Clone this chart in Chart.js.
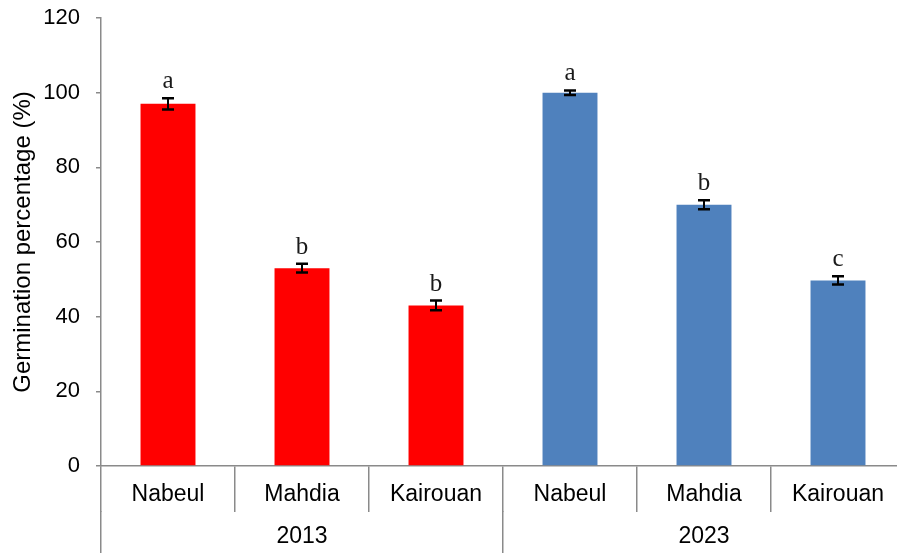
<!DOCTYPE html>
<html>
<head>
<meta charset="utf-8">
<script src="https://cdn.jsdelivr.net/npm/chart.js@4.4.1/dist/chart.umd.min.js"></script>
<style>
    html, body { margin: 0; padding: 0; background: #ffffff; overflow: hidden; }
    .wrap { width: 897px; height: 553px; overflow: hidden; }
</style>
</head>
<body>
<div class="wrap">
    <canvas id="germination-chart" width="906" height="553"></canvas>
</div>
<script>
// Sites and year groups (two-level category axis)
const sites = ['Nabeul', 'Mahdia', 'Kairouan', 'Nabeul', 'Mahdia', 'Kairouan'];
const yearTicks = ['', '2013', '', '', '2023', ''];

// Germination percentage (%) per site
const germ2013 = [97, 53, 43];
const germ2023 = [100, 70, 49.7];

// Standard errors
const err2013 = [1.5, 1.2, 1.3];
const err2023 = [0.6, 1.2, 1.1];

// Significance letters
const letters2013 = ['a', 'b', 'b'];
const letters2023 = ['a', 'b', 'c'];

const values = germ2013.concat(germ2023);
const errors = err2013.concat(err2023);
const letters = letters2013.concat(letters2023);
const barColors = germ2013.map(() => '#FF0000').concat(germ2023.map(() => '#4F81BD'));

const axisGray = '#8a8a8a';

/**
 * Error bars + letters above each bar
 */
const errorBarPlugin = {
    id: 'errorBars',
    afterDatasetsDraw(chart) {
        const ctx = chart.ctx;
        const yScale = chart.scales.y;
        const meta = chart.getDatasetMeta(0);
        ctx.save();
        ctx.strokeStyle = '#000000';
        meta.data.forEach((bar, i) => {
            const x = bar.x;
            const top = yScale.getPixelForValue(values[i] + errors[i]);
            const bottom = yScale.getPixelForValue(values[i] - errors[i]);
            ctx.lineWidth = 2;
            ctx.beginPath();
            ctx.moveTo(x, top);
            ctx.lineTo(x, bottom);
            ctx.stroke();
            ctx.lineWidth = 2.5;
            ctx.beginPath();
            ctx.moveTo(x - 6, top);
            ctx.lineTo(x + 6, top);
            ctx.moveTo(x - 6, bottom);
            ctx.lineTo(x + 6, bottom);
            ctx.stroke();

            ctx.fillStyle = '#1a1a1a';
            ctx.font = '25px "Liberation Serif", "Times New Roman", serif';
            ctx.textAlign = 'center';
            ctx.textBaseline = 'alphabetic';
            ctx.fillText(letters[i], x, top - 10);
        });
        ctx.restore();
    }
};

const ctx = document.getElementById('germination-chart').getContext('2d');

new Chart(ctx, {
    type: 'bar',
    data: {
        labels: sites,
        datasets: [{
            data: values,
            backgroundColor: barColors,
            borderWidth: 0,
            categoryPercentage: 1,
            barPercentage: 0.41
        }]
    },
    options: {
        responsive: false,
        animation: false,
        layout: { padding: { top: 18, right: 1, left: 0, bottom: 0 } },
        plugins: {
            legend: { display: false },
            tooltip: { enabled: false }
        },
        scales: {
            x: {
                type: 'category',
                position: 'bottom',
                offset: true,
                grid: {
                    offset: true,
                    drawOnChartArea: false,
                    drawTicks: true,
                    tickLength: 46,
                    color: axisGray,
                    lineWidth: 1.5
                },
                border: { display: true, color: axisGray, width: 1.5 },
                ticks: {
                    color: '#000000',
                    font: { family: '"Liberation Sans", Arial, sans-serif', size: 23 },
                    padding: -31,
                    maxRotation: 0,
                    autoSkip: false
                },
                afterFit: (scale) => { scale.height = 45; }
            },
            x2: {
                type: 'category',
                position: 'bottom',
                labels: yearTicks,
                offset: true,
                grid: {
                    offset: true,
                    drawOnChartArea: false,
                    drawTicks: true,
                    tickLength: 44,
                    lineWidth: 1.5,
                    color: (c) => (c.index % 3 === 0 ? axisGray : 'rgba(0,0,0,0)')
                },
                border: { display: false },
                ticks: {
                    color: '#000000',
                    font: { family: '"Liberation Sans", Arial, sans-serif', size: 23 },
                    padding: -32,
                    maxRotation: 0,
                    autoSkip: false
                },
                afterFit: (scale) => { scale.height = 42; }
            },
            y: {
                min: 0,
                max: 120,
                ticks: {
                    stepSize: 20,
                    color: '#000000',
                    font: { family: '"Liberation Sans", Arial, sans-serif', size: 22 },
                    padding: 16
                },
                grid: {
                    drawOnChartArea: false,
                    drawTicks: true,
                    tickLength: 5,
                    color: axisGray,
                    lineWidth: 1.5
                },
                border: { display: true, color: axisGray, width: 1.5 },
                title: {
                    display: true,
                    text: 'Germination percentage (%)',
                    color: '#000000',
                    font: { family: '"Liberation Sans", Arial, sans-serif', size: 24 },
                    padding: { top: 9, bottom: 0 }
                },
                afterFit: (scale) => {
                    scale.width = 101;
                    // tick padding would otherwise push the plot area down
                    scale.paddingTop = 0;
                    scale.paddingBottom = 0;
                }
            }
        }
    },
    plugins: [errorBarPlugin]
});
</script>
</body>
</html>
